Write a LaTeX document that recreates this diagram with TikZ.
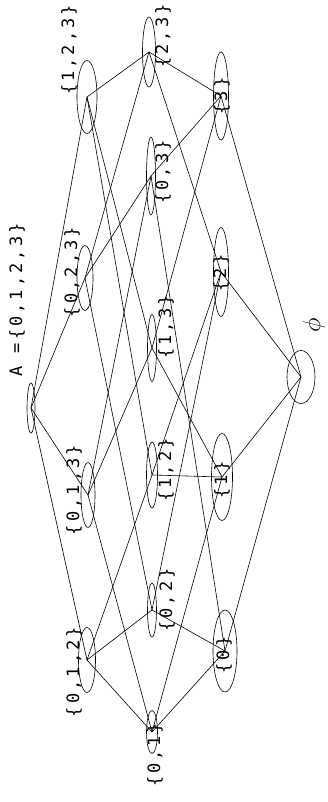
\documentclass[tikz,border=0pt]{standalone}
\usepackage{fontspec}
\setmainfont{DejaVu Sans Mono}
\usetikzlibrary{shapes.geometric}

\begin{document}
\begin{tikzpicture}[x=1pt, y=-1pt, line width=0.6pt,
    set/.style={ellipse, draw, inner sep=0pt},
    lab/.style={rotate=90, inner sep=0pt,
        font=\fontsize{17}{17}\selectfont\addfontfeatures{LetterSpace=18}}]
    \useasboundingbox (0,0) rectangle (327,802);
    % the sets, one column per size
    \node[set, minimum width=8pt, minimum height=50pt] (a) at (31,408) {};
    \node[set, minimum width=20pt, minimum height=73pt] (s123) at (87,97) {};
    \node[set, minimum width=16pt, minimum height=65pt] (s023) at (85,278) {};
    \node[set, minimum width=14pt, minimum height=65pt] (s013) at (88,495) {};
    \node[set, minimum width=17pt, minimum height=65pt] (s012) at (87,660) {};
    \node[set, minimum width=13pt, minimum height=70pt] (s23) at (149,52) {};
    \node[set, minimum width=9pt, minimum height=78pt] (s03) at (151,176) {};
    \node[set, minimum width=9pt, minimum height=67pt] (s13) at (152,348) {};
    \node[set, minimum width=11pt, minimum height=66pt] (s12) at (152,475) {};
    \node[set, minimum width=9pt, minimum height=54pt] (s02) at (152,610) {};
    \node[set, minimum width=11pt, minimum height=43pt] (s01) at (152,732) {};
    \node[set, minimum width=15pt, minimum height=88pt] (s3) at (221,96) {};
    \node[set, minimum width=15pt, minimum height=89pt] (s2) at (221,272) {};
    \node[set, minimum width=21pt, minimum height=87pt] (s1) at (222,477) {};
    \node[set, minimum width=24pt, minimum height=82pt] (s0) at (225,651) {};
    \node[set, minimum width=28pt, minimum height=53pt] (e) at (301,377) {};
    % labels
    \node[lab] (la) at (17,300) {A =\{0,1,2,3\}};
    \node[lab] (l123) at (69,50) {\{1,2,3\}};
    \node[lab] (l023) at (72,272) {\{0,2,3\}};
    \node[lab] (l013) at (74,490) {\{0,1,3\}};
    \node[lab] (l012) at (74,672) {\{0,1,2\}};
    \node[lab] (l23) at (163,36) {\{2,3\}};
    \node[lab] (l03) at (163,172) {\{0,3\}};
    \node[lab] (l13) at (166,327) {\{1,3\}};
    \node[lab] (l12) at (166,470) {\{1,2\}};
    \node[lab] (l02) at (167,600) {\{0,2\}};
    \node[lab] (l01) at (155,755) {\{0,1\}};
    \node[lab] (l3) at (222,96) {\{3\}};
    \node[lab] (l2) at (221,273) {\{2\}};
    \node[lab] (l1) at (222,480) {\{1\}};
    \node[lab] (l0) at (224,655) {\{0\}};
    \node[rotate=90, inner sep=0pt, font=\fontsize{24}{24}\selectfont] (le) at (314,325) {$\phi$};
    % covering relations
    \foreach \u/\v in {a/s123, a/s023, a/s013, a/s012,
        s123/s23, s123/s13, s123/s12, s023/s23, s023/s03, s023/s02,
        s013/s13, s013/s03, s013/s01, s012/s12, s012/s02, s012/s01,
        s23/s2, s23/s3, s13/s1, s13/s3, s12/s1, s12/s2,
        s03/s0, s03/s3, s02/s0, s02/s2, s01/s0, s01/s1,
        s0/e, s1/e, s2/e, s3/e}
        \draw (\u.center) -- (\v.center);
\end{tikzpicture}
\end{document}
